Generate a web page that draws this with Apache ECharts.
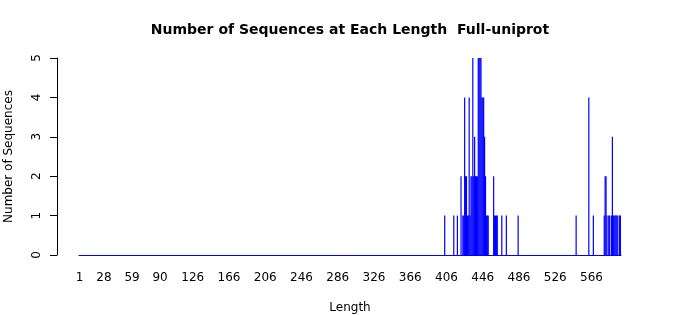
<!DOCTYPE html>
<html>
<head>
<meta charset="utf-8">
<script src="https://cdn.jsdelivr.net/npm/echarts@6/dist/echarts.min.js"></script>
<style>html,body{margin:0;padding:0;background:#fff}#c{width:700px;height:315px}</style>
</head>
<body>
<div id="c"></div>
<script>
// Observed sequence lengths and how many sequences have each length
var lengths = [404, 414, 418, 422, 424, 425, 426, 427, 428, 429, 430, 431, 432, 433, 434, 435, 436, 437, 438, 439, 440,
  441, 442, 443, 444, 445, 446, 447, 448, 449, 450, 451, 452, 458, 459, 460, 461, 462, 467, 472, 485,
  549, 563, 568, 580, 581, 582, 583, 585, 586, 588, 589, 590, 591, 592, 593, 594, 595, 597, 598];
var counts = [1, 1, 1, 2, 1, 1, 4, 2, 2, 1, 1, 4, 1, 2, 2, 5, 2, 3, 2, 2, 2,
  5, 5, 5, 5, 4, 4, 4, 3, 2, 1, 1, 1, 2, 1, 1, 1, 1, 1, 1, 1,
  1, 4, 1, 1, 2, 2, 1, 1, 1, 1, 3, 1, 1, 1, 1, 1, 1, 1, 1];
var minLength = 1;
var maxLength = 598;
var xTickLabels = ['1', '28', '59', '90', '126', '166', '206', '246', '286', '326', '366', '406', '446', '486', '526', '566'];
var yTicks = [0, 1, 2, 3, 4, 5];

var categories = [];
var values = [];
for (var v = minLength; v <= maxLength; v++) { categories.push(String(v)); values.push(0); }
lengths.forEach(function (L, i) { values[L - minLength] = counts[i]; });

var font = 'DejaVu Sans';
var chart = echarts.init(document.getElementById('c'), null, {renderer: 'canvas'});
chart.setOption({
  animation: false,
  backgroundColor: '#ffffff',
  title: {
    text: 'Number of Sequences at Each Length  Full-uniprot',
    left: 'center', top: 18,
    textStyle: {fontFamily: font, fontSize: 14, fontWeight: 'bold', color: '#000'}
  },
  grid: {left: 79, width: 542, top: 58, height: 197, containLabel: false, outerBoundsMode: 'none'},
  xAxis: {
    type: 'category',
    data: categories,
    boundaryGap: true,
    name: 'Length',
    nameLocation: 'middle',
    nameGap: 47,
    nameTextStyle: {fontFamily: font, fontSize: 12, color: '#000'},
    axisLine: {show: true, lineStyle: {color: '#0000ff', width: 1}},
    axisTick: {show: false},
    axisLabel: {
      fontFamily: font, fontSize: 12, color: '#000', margin: 17,
      interval: function (idx, val) { return xTickLabels.indexOf(val) >= 0; }
    },
    splitLine: {show: false}
  },
  yAxis: {
    type: 'value',
    min: yTicks[0], max: yTicks[yTicks.length - 1], interval: 1,
    offset: 22,
    name: 'Number of Sequences',
    nameLocation: 'middle',
    nameGap: 42,
    nameRotate: 90,
    nameTextStyle: {fontFamily: font, fontSize: 12, color: '#000'},
    axisLine: {show: true, lineStyle: {color: '#000', width: 1}},
    axisTick: {show: true, length: 7, lineStyle: {color: '#000'}},
    axisLabel: {fontFamily: font, fontSize: 12, color: '#000', rotate: 90, margin: 14},
    splitLine: {show: false}
  },
  series: [{
    type: 'bar',
    data: values,
    barWidth: 1.2,
    itemStyle: {color: '#0000ff'},
    silent: true
  }]
});
</script>
</body>
</html>
